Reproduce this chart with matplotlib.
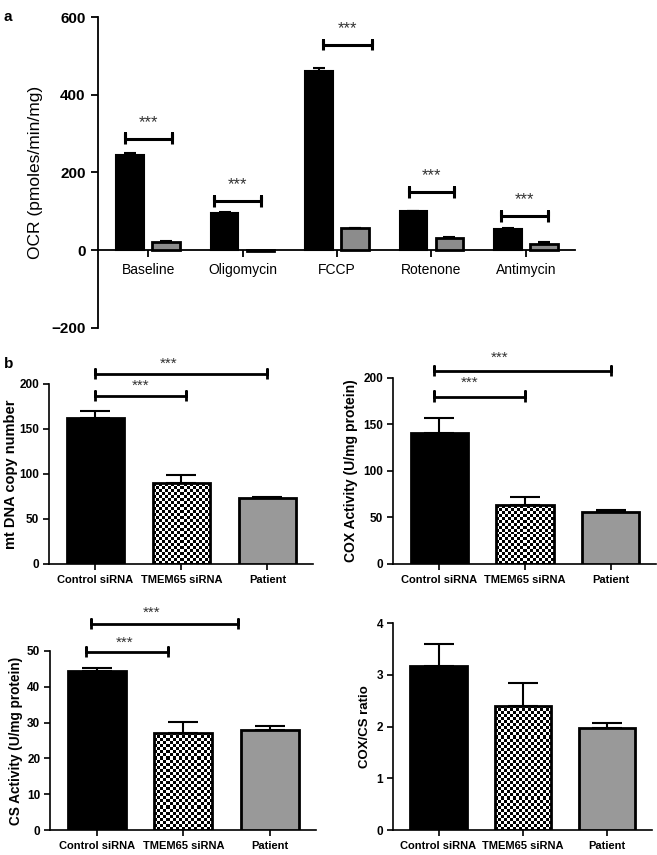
import numpy as np
import matplotlib
matplotlib.use('Agg')
from matplotlib import pyplot as plt

plt.rcParams['font.family'] = ['Liberation Sans', 'DejaVu Sans']

# ---- panel a data ----
treatments = ['Baseline', 'Oligomycin', 'FCCP', 'Rotenone', 'Antimycin']
ocr_ctrl = [246, 96, 460, 100, 55]
ocr_ctrl_err = [3, 2, 10, 1, 2]
ocr_pat = [21, -3, 56, 32, 17]
ocr_pat_err = [3, 1, 2, 2, 3]
ocr_sig_y = [287, 126, 528, 149, 87]
ocr_sig_x0 = [-0.24, -0.30, -0.15, -0.24, -0.26]
ocr_sig_x1 = [0.25, 0.20, 0.37, 0.24, 0.23]

# ---- panel b data ----
groups = ['Control siRNA', 'TMEM65 siRNA', 'Patient']
mtdna = [162, 90, 73]
mtdna_err = [8, 9, 1.5]
cox = [141, 63, 56]
cox_err = [16, 9, 1.5]
cs = [44.4, 27.1, 27.9]
cs_err = [0.8, 3.1, 1.1]
ratio = [3.17, 2.40, 1.97]
ratio_err = [0.42, 0.44, 0.10]

fig = plt.figure(figsize=(6.57, 8.55), dpi=100)


def bracket(ax, x0, x1, y, h, lw=2):
    ax.plot([x0, x0, x0, x0, x1, x1, x1], [y - h, y + h, y, y, y, y + h, y - h],
            color='black', lw=lw, clip_on=False, solid_capstyle='butt')


def stars(ax, x, y, size=11):
    ax.text(x, y, '***', ha='center', va='center', fontsize=size,
            color='#333333', clip_on=False)


def checker_fill(ax, bar, cell_px=3):
    x0, y0 = bar.get_x(), bar.get_y()
    w, h = bar.get_width(), bar.get_height()
    bb = ax.get_window_extent()
    xr, yr = ax.get_xlim(), ax.get_ylim()
    nx = max(1, int(round(w * bb.width / (xr[1] - xr[0]) / cell_px)))
    ny = max(1, int(round(h * bb.height / (yr[1] - yr[0]) / cell_px)))
    board = np.add.outer(np.arange(ny), np.arange(nx)) % 2
    im = ax.imshow(board, cmap='gray', extent=[x0, x0 + w, y0, y0 + h],
                   aspect='auto', interpolation='nearest', zorder=2)
    im.set_clip_path(bar)


# ================= panel a =================
axa = fig.add_axes([0.1492, 0.6164, 0.726, 0.3637])
x = np.arange(len(treatments))
bw = 0.29
axa.bar(x - 0.19, ocr_ctrl, bw, color='black', edgecolor='black', lw=1.5, zorder=3)
axa.bar(x + 0.19, ocr_pat, bw, color='#8c8c8c', edgecolor='black', lw=2, zorder=3)
axa.errorbar(x - 0.19, ocr_ctrl, yerr=[np.zeros(5), ocr_ctrl_err], fmt='none',
             ecolor='black', elinewidth=1.5, capsize=4, capthick=1.5, zorder=2)
axa.errorbar(x + 0.19, ocr_pat, yerr=[np.zeros(5), ocr_pat_err], fmt='none',
             ecolor='black', elinewidth=1.5, capsize=4, capthick=1.5, zorder=2)
for i in range(len(treatments)):
    bracket(axa, i + ocr_sig_x0[i], i + ocr_sig_x1[i], ocr_sig_y[i], 14, lw=2.2)
    stars(axa, i + (ocr_sig_x0[i] + ocr_sig_x1[i]) / 2, ocr_sig_y[i] + 42, size=12)
axa.set_xlim(-0.53, 4.52)
axa.set_ylim(-200, 600)
axa.set_yticks([-200, 0, 200, 400, 600])
axa.set_xticks(x)
axa.set_xticklabels(treatments, fontsize=11, fontweight='bold')
for t in axa.get_yticklabels():
    t.set_fontsize(11)
    t.set_fontweight('bold')
axa.spines['bottom'].set_position(('data', 0))
axa.spines['top'].set_visible(False)
axa.spines['right'].set_visible(False)
for s in ['left', 'bottom']:
    axa.spines[s].set_linewidth(1.3)
axa.tick_params(width=1.3, length=5, pad=4)
axa.set_ylabel('OCR (pmoles/min/mg)', fontsize=12.5, labelpad=6)
fig.text(0.006, 0.988, 'a', fontsize=11, fontweight='bold', va='top')
fig.text(0.006, 0.582, 'b', fontsize=11, fontweight='bold', va='top')

# ================= panel b =================
panels = [
    ([0.0746, 0.3404, 0.4018, 0.2105], mtdna, mtdna_err, (0, 200), [0, 50, 100, 150, 200],
     'mt DNA copy number', 10.5, 1),
    ([0.5982, 0.3404, 0.4003, 0.2175], cox, cox_err, (0, 200), [0, 50, 100, 150, 200],
     'COX Activity (U/mg protein)', 10, 4),
    ([0.0761, 0.0292, 0.4049, 0.2094], cs, cs_err, (0, 50), [0, 10, 20, 30, 40, 50],
     'CS Activity (U/mg protein)', 9.8, 3),
    ([0.5982, 0.0292, 0.3940, 0.2421], ratio, ratio_err, (0, 4), [0, 1, 2, 3, 4],
     'COX/CS ratio', 9.5, 4),
]
axes_b = []
xb = np.arange(3)
for rect, vals, errs, ylim, yt, lab, lsize, lpad in panels:
    ax = fig.add_axes(rect)
    ax.set_xlim(-0.54, 2.53)
    ax.set_ylim(*ylim)
    bars = ax.bar(xb, vals, 0.67, color=['black', 'none', '#999999'],
                  edgecolor='black', lw=2, zorder=3)
    checker_fill(ax, bars[1])
    ax.errorbar(xb, vals, yerr=[np.zeros(3), errs], fmt='none', ecolor='black',
                elinewidth=1.5, capsize=10.5, capthick=1.5, zorder=1)
    ax.set_xlim(-0.54, 2.53)
    ax.set_ylim(*ylim)
    ax.set_yticks(yt)
    ax.set_xticks(xb)
    ax.set_xticklabels(groups, fontsize=8, fontweight='bold')
    for t in ax.get_yticklabels():
        t.set_fontsize(8.5)
        t.set_fontweight('bold')
    ax.spines['top'].set_visible(False)
    ax.spines['right'].set_visible(False)
    for s in ['left', 'bottom']:
        ax.spines[s].set_linewidth(1.2)
    ax.tick_params(width=1.2, length=4, pad=3)
    ax.tick_params(axis='x', pad=4)
    ax.set_ylabel(lab, fontsize=lsize, fontweight='bold', labelpad=lpad)
    axes_b.append(ax)

# significance marks in panel b
ax1, ax2, ax3, ax4 = axes_b
bracket(ax1, 0, 2, 211, 5.5)
bracket(ax1, 0, 1.05, 187, 5.5)
stars(ax1, 0.85, 223)
stars(ax1, 0.52, 198)

bracket(ax2, -0.06, 2.0, 207.5, 5.5)
bracket(ax2, -0.06, 1.0, 180, 5.5)
stars(ax2, 0.7, 222)
stars(ax2, 0.35, 195)

bracket(ax3, -0.07, 1.63, 57.5, 1.4)
bracket(ax3, -0.13, 0.82, 49.7, 1.4)
stars(ax3, 0.63, 60.8)
stars(ax3, 0.32, 52.3)

fig.savefig('out.png', dpi=100)
